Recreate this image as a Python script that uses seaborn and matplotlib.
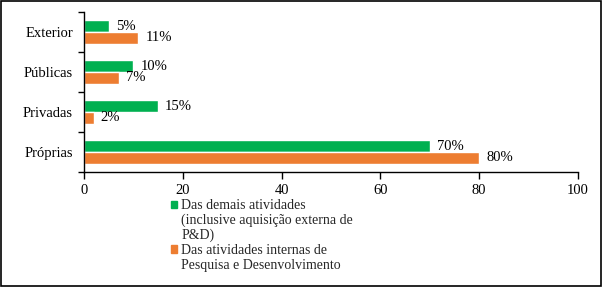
import pandas as pd
import seaborn as sns
import matplotlib.pyplot as plt
from matplotlib.patches import Patch, Rectangle

# dados
fontes = ['Exterior', 'Públicas', 'Privadas', 'Próprias']
demais = [5, 10, 15, 70]       # Das demais atividades
internas = [11, 7, 2, 80]      # Das atividades internas de P&D
tipos = ['Das demais atividades', 'Das atividades internas de P&D']
cores = ['#00B050', '#ED7D31']

df = pd.DataFrame({
    'fonte': fontes * 2,
    'valor': demais + internas,
    'tipo': [tipos[0]] * len(fontes) + [tipos[1]] * len(fontes),
})

sns.set_theme(style='white')
plt.rcParams['font.family'] = ['Liberation Serif', 'DejaVu Serif']

fig = plt.figure(figsize=(6.02, 2.87), dpi=100)
ax = fig.add_axes([84 / 602, 1 - 172 / 287, (578 - 84) / 602, 160 / 287])

sns.barplot(data=df, y='fonte', x='valor', hue='tipo', order=fontes,
            hue_order=tipos, palette=cores, orient='h', width=0.59,
            saturation=1, legend=False, ax=ax)

for cont in ax.containers:
    ax.bar_label(cont, labels=[f'{v:.0f}%' for v in cont.datavalues],
                 padding=5, fontsize=10.5, color='black')

# eixos
ax.set_xlim(0, 100)
ax.set_ylim(3.5, -0.5)
ax.set_xticks(range(0, 101, 20))
ax.set_xlabel('')
ax.set_ylabel('')
ax.tick_params(axis='x', direction='out', length=5, width=1, color='black',
               labelsize=10.5, labelcolor='black', pad=4, bottom=True)
ax.set_yticks(range(len(fontes)))
ax.set_yticklabels(fontes)
ax.set_yticks([i - 0.5 for i in range(len(fontes) + 1)], minor=True)
ax.tick_params(axis='y', which='major', length=0, labelsize=10.5,
               labelcolor='black', pad=8)
ax.tick_params(axis='y', which='minor', direction='out', length=4, width=1,
               color='black', left=True)
for s in ['top', 'right']:
    ax.spines[s].set_visible(False)
for s in ['left', 'bottom']:
    ax.spines[s].set_color('black')
    ax.spines[s].set_linewidth(1)

# legenda (uma linha por entrada)
handles = [
    Patch(color=cores[0], label='Das demais atividades'),
    Patch(color='none', label='(inclusive aquisição externa de'),
    Patch(color='none', label='P&D)'),
    Patch(color=cores[1], label='Das atividades internas de'),
    Patch(color='none', label='Pesquisa e Desenvolvimento'),
]
fig.legend(handles=handles, loc='upper left', bbox_to_anchor=(171 / 602, 1 - 199 / 287),
           frameon=False, fontsize=10, handlelength=0.4, handleheight=0.4,
           handletextpad=0.35, labelspacing=0.12, borderpad=0, borderaxespad=0)

# moldura
fig.patches.append(Rectangle((0.001, 0.004), 0.997, 0.994, transform=fig.transFigure,
                             fill=False, ec='black', lw=1.2))

fig.savefig('out.png', dpi=100)
